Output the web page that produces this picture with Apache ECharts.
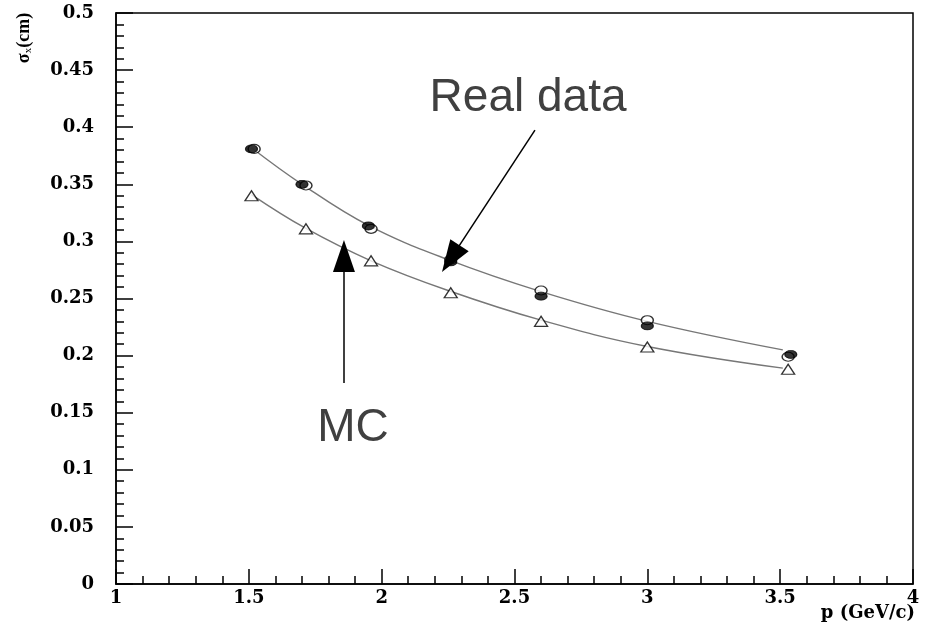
<!DOCTYPE html>
<html>
<head>
<meta charset="utf-8">
<script src="https://cdn.jsdelivr.net/npm/echarts@6/dist/echarts.min.js"></script>
<style>
html, body { margin: 0; padding: 0; background: #fff; }
#chart { width: 931px; height: 625px; }
</style>
</head>
<body>
<div id="chart"></div>
<script>
// measured points, [p (GeV/c), sigma_x (cm)]
var realFilled = [[1.51, 0.381], [1.70, 0.350], [1.95, 0.3135], [2.26, 0.282], [2.60, 0.252], [3.00, 0.226], [3.54, 0.201]];
var realOpen = [[1.52, 0.381], [1.715, 0.349], [1.96, 0.311], [2.26, 0.284], [2.60, 0.257], [3.00, 0.231], [3.53, 0.199]];
var mcPoints = [[1.51, 0.340], [1.715, 0.311], [1.96, 0.283], [2.26, 0.255], [2.60, 0.230], [3.00, 0.2075], [3.53, 0.188]];

// fitted curves
var realFit = [[1.51, 0.382], [1.70, 0.350], [1.95, 0.314], [2.25, 0.284], [2.60, 0.256], [3.00, 0.230], [3.51, 0.205]];
var mcFit = [[1.51, 0.341], [1.71, 0.312], [1.96, 0.283], [2.25, 0.257], [2.60, 0.231], [3.00, 0.208], [3.51, 0.189]];

// annotation arrows: [tail, head]
var realArrow = [[2.577, 0.3975], [2.260, 0.2849]];
var mcArrow = [[1.858, 0.176], [1.858, 0.2872]];
var notes = [
  { text: 'Real data', at: [2.551, 0.4251] },
  { text: 'MC', at: [1.892, 0.1362] }
];
var xName = 'p (GeV/c)';

var labelFont = { color: '#000', fontFamily: 'DejaVu Serif', fontWeight: 'bold', fontSize: 18 };

var myChart = echarts.init(document.getElementById('chart'));

function arrowLine(a) {
  return {
    silent: true,
    symbol: ['none', 'triangle'],
    symbolSize: [22, 32],
    lineStyle: { color: '#000', width: 1.5, type: 'solid' },
    itemStyle: { color: '#000' },
    label: { show: false },
    data: [[{ coord: a[0] }, { coord: a[1] }]]
  };
}

var option = {
  animation: false,
  grid: {
    left: 116, right: 18, top: 13, bottom: 41,
    outerBoundsMode: 'none',
    show: true, borderColor: '#000', borderWidth: 1.5
  },
  xAxis: {
    type: 'value', min: 1, max: 4, interval: 0.5,
    axisLine: { lineStyle: { color: '#000', width: 1.5 } },
    axisTick: { inside: true, length: 15, lineStyle: { color: '#000', width: 1.5 } },
    minorTick: { show: true, splitNumber: 5, length: 8, lineStyle: { color: '#000', width: 1.5 } },
    splitLine: { show: false },
    axisLabel: Object.assign({ margin: 5, formatter: function (v) { return String(+v.toFixed(1)); } }, labelFont)
  },
  yAxis: {
    type: 'value', min: 0, max: 0.5, interval: 0.05,
    axisLine: { lineStyle: { color: '#000', width: 1.5 } },
    axisTick: { inside: true, length: 17, lineStyle: { color: '#000', width: 1.5 } },
    minorTick: { show: true, splitNumber: 5, length: 8, lineStyle: { color: '#000', width: 1.5 } },
    splitLine: { show: false },
    axisLabel: Object.assign({ margin: 22, formatter: function (v) { return String(+v.toFixed(2)); } }, labelFont)
  },
  series: [
    {
      name: 'Real fit', type: 'line', data: realFit, smooth: 0.4, showSymbol: false,
      lineStyle: { color: '#777', width: 1.4 }, z: 1,
      markLine: arrowLine(realArrow)
    },
    {
      name: 'MC fit', type: 'line', data: mcFit, smooth: 0.4, showSymbol: false,
      lineStyle: { color: '#777', width: 1.4 }, z: 1,
      markLine: arrowLine(mcArrow)
    },
    {
      name: 'Real data (open)', type: 'scatter', data: realOpen,
      symbol: 'circle', symbolSize: [12, 9],
      itemStyle: { color: '#fff', borderColor: '#000', borderWidth: 1.3 }, z: 3
    },
    {
      name: 'Real data', type: 'scatter', data: realFilled,
      symbol: 'circle', symbolSize: [12, 8],
      itemStyle: { color: '#000', borderColor: '#000', borderWidth: 1 }, z: 4
    },
    {
      name: 'MC', type: 'scatter', data: mcPoints,
      symbol: 'triangle', symbolSize: [13, 10],
      itemStyle: { color: '#fff', borderColor: '#000', borderWidth: 1.3 }, z: 3
    }
  ]
};
myChart.setOption(option);

// text annotations placed through the chart's own scales
var graphics = notes.map(function (n) {
  var px = myChart.convertToPixel({ gridIndex: 0 }, n.at);
  return {
    type: 'text', x: px[0], y: px[1], z: 10,
    style: {
      text: n.text, fill: '#404040', font: '46px "Liberation Sans", Arial, sans-serif',
      align: 'center', verticalAlign: 'middle'
    }
  };
});
// x axis title, right aligned under the axis end
var axisEnd = myChart.convertToPixel({ gridIndex: 0 }, [4, 0]);
graphics.push({
  type: 'text', x: axisEnd[0] + 2, y: axisEnd[1] + 29, z: 10,
  style: {
    text: xName, fill: '#000', font: 'bold 18px "DejaVu Serif", serif',
    align: 'right', verticalAlign: 'middle'
  }
});
graphics.push({
  type: 'text', x: 24, y: 38, rotation: Math.PI / 2, z: 10,
  style: {
    text: '{s|σ}{x|x}{s|(cm)}',
    align: 'center', verticalAlign: 'middle',
    rich: {
      s: { fontFamily: 'Liberation Serif', fontSize: 18, fill: '#000', fontWeight: 'bold' },
      x: { fontFamily: 'Liberation Serif', fontSize: 11, fill: '#000', padding: [8, 0, 0, 0] }
    }
  }
});
myChart.setOption({ graphic: graphics });
</script>
</body>
</html>
